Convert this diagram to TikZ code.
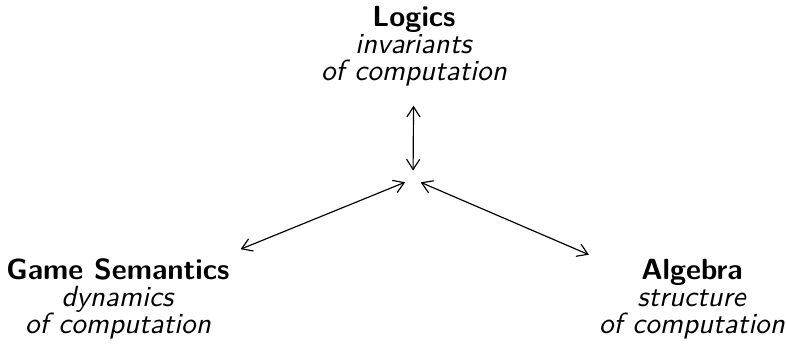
\documentclass[tikz,border=0pt]{standalone}
\usepackage{tikz}
\usetikzlibrary{arrows.meta}

\begin{document}
\begin{tikzpicture}[x=0.343pt, y=-0.343pt,
    font=\sffamily\fontsize{10}{9.3}\selectfont,
    >={Straight Barb[length=3.5pt,width=4.5pt]},
    area/.style={align=center, inner sep=3.33pt},
    link/.style={<->, line width=0.4pt, shorten >=2.9pt}]
  \useasboundingbox (0,0) rectangle (786,346);

  % ---- the three fields
  \node[area] (logics) at (414,46)
    {\textbf{Logics}\\ \textit{invariants}\\ \textit{of computation}};
  \node[area] (game) at (118,299)
    {\textbf{Game Semantics}\\ \textit{dynamics}\\ \textit{of computation}};
  \node[area] (algebra) at (692,299)
    {\textbf{Algebra}\\ \textit{structure}\\ \textit{of computation}};

  % ---- where they meet
  \coordinate (hub) at (413,179);
  \foreach \n/\gap in {logics/3.2pt, game/0.3pt, algebra/0pt}
    \draw[link, shorten <=\gap] (\n) -- (hub);
\end{tikzpicture}
\end{document}
